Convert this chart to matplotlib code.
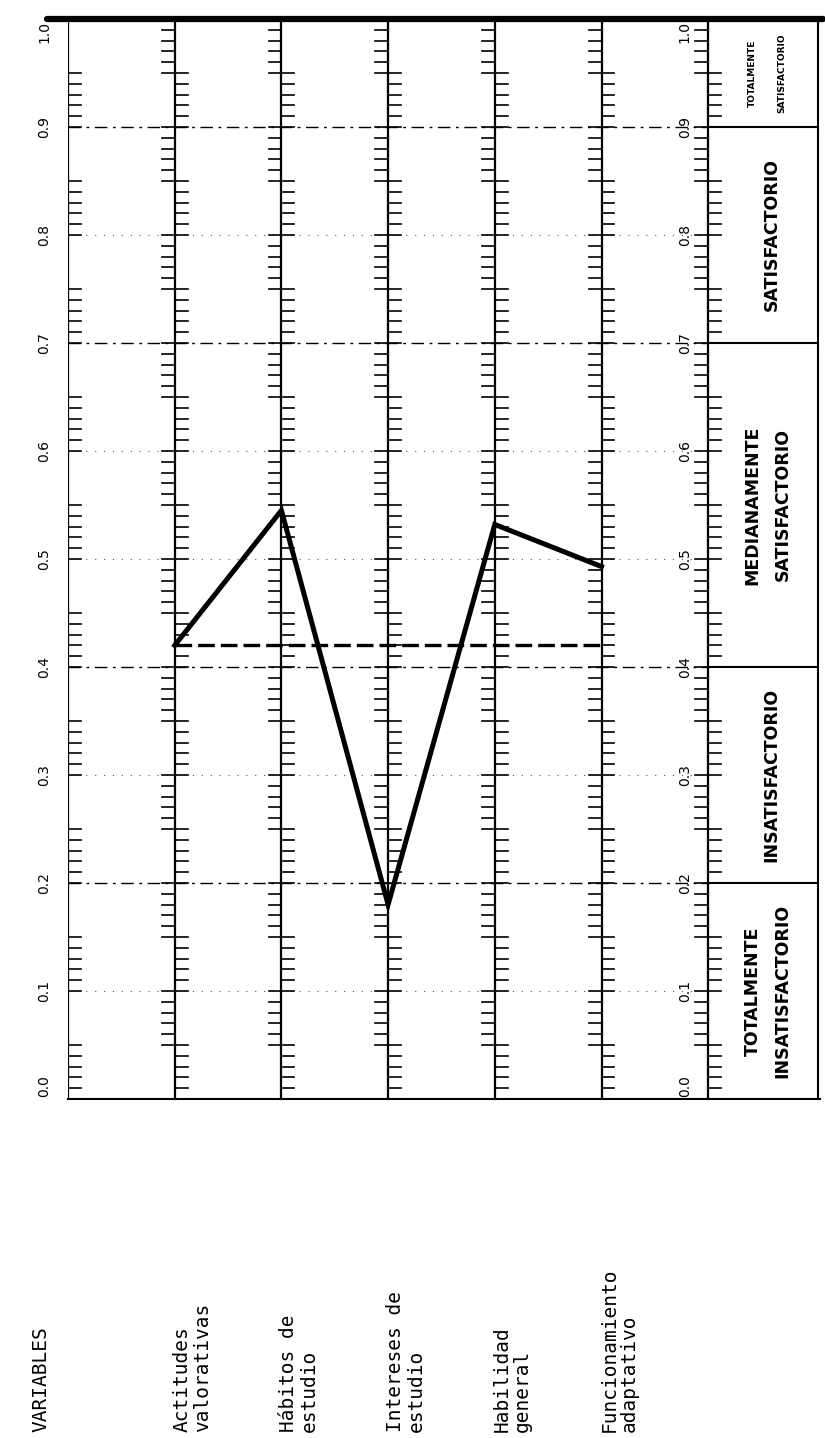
import numpy as np
import matplotlib.pyplot as plt

# profile values (scale 0..1)
variables = ["Actitudes\nvalorativas", "Hábitos de\nestudio", "Intereses de\nestudio",
             "Habilidad\ngeneral", "Funcionamiento\nadaptativo"]
values = [0.42, 0.545, 0.18, 0.532, 0.493]
mean_level = 0.42

scale_ticks = [0.0, 0.1, 0.2, 0.3, 0.4, 0.5, 0.6, 0.7, 0.8, 0.9, 1.0]
scale_labels = ["0.0", "0.1", "0.2", "0.3", "0.4", "0.5", "0.6", "0.7", "0.8", "0.9", "1.0"]

band_edges = [0.0, 0.2, 0.4, 0.7, 0.9, 1.0]
band_labels = [["TOTALMENTE", "INSATISFACTORIO"], ["INSATISFACTORIO"],
               ["MEDIANAMENTE", "SATISFACTORIO"], ["SATISFACTORIO"],
               ["TOTALMENTE", "SATISFACTORIO"]]
major_grid = [0.2, 0.4, 0.7, 0.9]
minor_grid = [0.1, 0.3, 0.5, 0.6, 0.8]

W, H = 825, 1438
fig = plt.figure(figsize=(W / 100, H / 100), dpi=100)
ax = fig.add_axes([68 / W, 339 / H, 752 / W, 1080 / H])
ax.set_xlim(0, 752 / 106.7)
ax.set_ylim(0, 1)
ax.axis("off")

n = len(variables)
axis_x = list(range(0, n + 2))      # 0 = left scale, 1..n variables, n+1 = right scale
right_x = n + 1
box_edge = 7.03
L = 0.12

# grid lines
for g in major_grid:
    ax.plot([0, right_x], [g, g], color="black", lw=1.0, dashes=(9, 4, 2, 4), zorder=1)
for g in minor_grid:
    ax.plot([0, right_x], [g, g], color="0.35", lw=0.8, dashes=(1, 7), zorder=1)

# vertical ruler axes with ticks
for x0 in axis_x:
    ax.plot([x0, x0], [0, 1], color="black", lw=1.6, zorder=2)
    for k in range(1, 100):
        v = k / 100
        m = k % 10
        if m in (0, 5):
            xs = [x0 - L, x0 + L]
        elif m >= 6:
            xs = [x0 - L, x0]
        else:
            xs = [x0, x0 + L]
        ax.plot(xs, [v, v], color="black", lw=1.2, zorder=2)

# scale labels on both scale axes
for x0 in (0, right_x):
    for t, lab in zip(scale_ticks, scale_labels):
        yy = min(max(t, 0.012), 0.988)
        ax.text(x0 - 0.22, yy, lab, rotation=90, ha="center", va="center",
                fontsize=10, family="DejaVu Sans", clip_on=False)

# frame: heavy top rule, bottom rule, category box
ax.plot([-0.2, box_edge + 0.05], [1, 1], color="black", lw=4.5, solid_capstyle="round",
        clip_on=False, zorder=4)
ax.plot([0, 752 / 106.7], [0, 0], color="black", lw=1.5, clip_on=False, zorder=3)
ax.plot([box_edge, box_edge], [0, 1], color="black", lw=1.5, clip_on=False, zorder=3)
for e in band_edges[1:-1]:
    ax.plot([right_x, box_edge], [e, e], color="black", lw=1.5, zorder=3)

# category labels in the box
cx = (right_x + box_edge) / 2 + 0.04
for i, lines in enumerate(band_labels):
    yc = (band_edges[i] + band_edges[i + 1]) / 2
    small = i == len(band_labels) - 1
    fs = 6.5 if small else 12.5
    off = 0.14
    if len(lines) == 1:
        pos = [cx + 0.04]
    else:
        pos = [cx - off, cx + off]
    for p, s in zip(pos, lines):
        ax.text(p, yc, s, rotation=90, ha="center", va="center", fontsize=fs,
                fontweight="bold", family=["Liberation Sans Narrow", "DejaVu Sans"],
                zorder=5)

# profile line and reference level
xs = np.arange(1, n + 1)
ax.plot(xs, values, color="black", lw=3.6, solid_joinstyle="miter", zorder=6)
ax.plot([1, n], [mean_level, mean_level], color="black", lw=2.4, dashes=(5, 1.8), zorder=5)

# variable names under the chart
y_text = (1099 - 1432) / 1080
ax.text(-0.34, y_text, "VARIABLES", rotation=90, ha="left", va="bottom", fontsize=14,
        family="DejaVu Sans Mono", clip_on=False)
for i, name in enumerate(variables):
    ax.text(i + 1 - 0.02, y_text, name, rotation=90, ha="left", va="bottom",
            multialignment="left", fontsize=14, linespacing=1.1,
            family="DejaVu Sans Mono", clip_on=False)

fig.savefig("out.png", dpi=100)
